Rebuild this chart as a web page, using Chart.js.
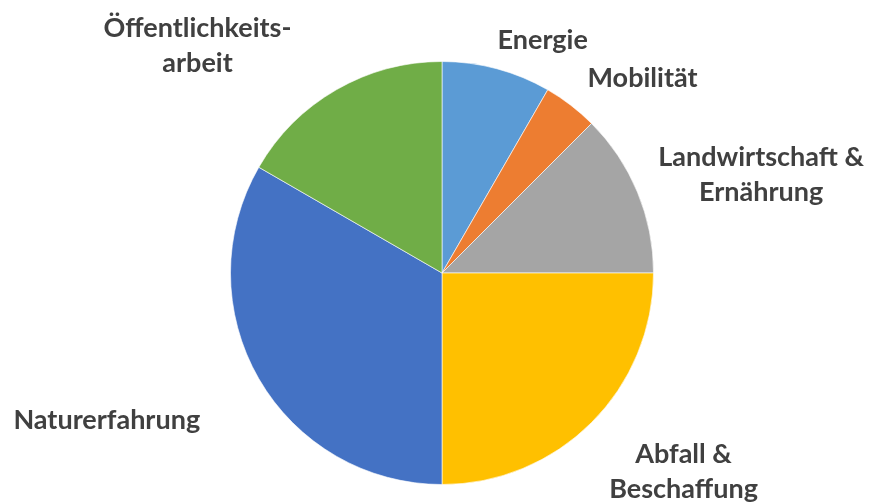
<!DOCTYPE html>
<html>
<head>
<meta charset="utf-8">
<script src="https://cdn.jsdelivr.net/npm/chart.js@4"></script>
<style>
  html, body { margin: 0; padding: 0; background: #fff; }
  #wrap { width: 869px; height: 504px; }
</style>
</head>
<body>
<div id="wrap"><canvas id="pieChart"></canvas></div>
<script>
  // Data (counts per topic)
  const categories = [
    ['Energie'],
    ['Mobilität'],
    ['Landwirtschaft &', 'Ernährung'],
    ['Abfall &', 'Beschaffung'],
    ['Naturerfahrung'],
    ['Öffentlichkeits-', 'arbeit']
  ];
  const values = [2, 1, 3, 6, 8, 4];
  const colors = ['#5B9BD5', '#ED7D31', '#A5A5A5', '#FFC000', '#4472C4', '#70AD47'];

  // label placement, in units of the pie radius from its centre
  const labelPos = [
    [0.476, -1.099],
    [0.948, -0.920],
    [1.509, -0.462],
    [1.142, 0.939],
    [-1.585, 0.698],
    [-1.156, -1.075]
  ];

  const outsideLabels = {
    id: 'outsideLabels',
    afterDatasetsDraw(chart) {
      const ctx = chart.ctx;
      const meta = chart.getDatasetMeta(0);
      const arc0 = meta.data[0];
      const cx = arc0.x, cy = arc0.y, r = arc0.outerRadius;
      ctx.save();
      ctx.fillStyle = '#404040';
      ctx.font = 'bold 27px Lato';
      ctx.textAlign = 'center';
      ctx.textBaseline = 'middle';
      const lineH = 35;
      categories.forEach((lines, i) => {
        const x = cx + labelPos[i][0] * r;
        const y = cy + labelPos[i][1] * r;
        const top = y - (lines.length - 1) * lineH / 2;
        lines.forEach((t, j) => ctx.fillText(t, x, top + j * lineH));
      });
      ctx.restore();
    }
  };

  const ctx = document.getElementById('pieChart').getContext('2d');
  const pieChart = new Chart(ctx, {
    type: 'pie',
    data: {
      labels: categories.map(l => l.join(' ')),
      datasets: [{
        data: values,
        backgroundColor: colors,
        borderColor: 'rgba(255,255,255,0.6)',
        borderWidth: 1
      }]
    },
    options: {
      responsive: true,
      maintainAspectRatio: false,
      animation: false,
      layout: { padding: { top: 61, bottom: 19, left: 230, right: 215 } },
      plugins: {
        legend: { display: false },
        tooltip: { enabled: false }
      }
    },
    plugins: [outsideLabels]
  });
</script>
</body>
</html>
